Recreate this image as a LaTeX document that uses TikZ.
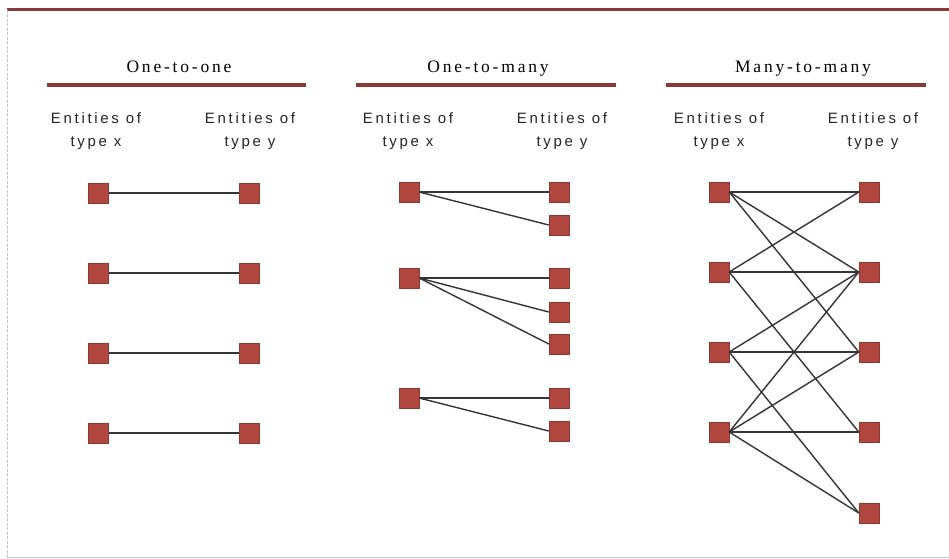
\documentclass[tikz,border=0pt]{standalone}
\usepackage{fontspec}
\setmainfont{Liberation Serif}
\newfontfamily\entfont[LetterSpace=18]{Liberation Sans}
\newfontfamily\ttlfont[LetterSpace=16]{Liberation Serif}
\definecolor{barred}{HTML}{8A3A36}
\definecolor{sqfill}{HTML}{B0463D}
\definecolor{sqedge}{HTML}{8E3832}
\definecolor{linkc}{HTML}{353535}
\definecolor{frame}{HTML}{C8C4C4}
\tikzset{
  sq/.style={rectangle, minimum size=20pt, inner sep=0pt, fill=sqfill, draw=sqedge, line width=0.4pt},
  link/.style={draw=linkc, line width=1.4pt},
  ttl/.style={inner sep=0pt, anchor=base, font=\ttlfont\fontsize{17.5}{20}\selectfont},
  ent/.style={inner sep=0pt, anchor=base, font=\entfont\fontsize{15}{23}\selectfont, text=black!85},
  bar/.style={draw=barred, line width=3.2pt},
}
\begin{document}
\begin{tikzpicture}[x=1pt,y=-1pt]
\useasboundingbox (0,0) rectangle (949,558);
\fill[white] (0,0) rectangle (949,558);
% frame
\coordinate (tl) at (7,9.5);
\coordinate (tr) at (949,9.5);
\coordinate (bl) at (7,557);
\coordinate (br) at (949,557);
\draw[bar] (tl) -- (tr);
\draw[frame, line width=0.8pt, dash pattern=on 3pt off 1.5pt] (tl) -- (bl);
\draw[frame, line width=0.8pt] (bl) -- (br);

% titles
\node[ttl] (t1) at (179,72) {One-to-one};
\node[ttl] (t2) at (488,72) {One-to-many};
\node[ttl] (t3) at (803,72) {Many-to-many};
\coordinate (u1a) at (47,85); \coordinate (u1b) at (306,85);
\coordinate (u2a) at (356,85); \coordinate (u2b) at (616,85);
\coordinate (u3a) at (666,85); \coordinate (u3b) at (926,85);
\draw[bar] (u1a) -- (u1b);
\draw[bar] (u2a) -- (u2b);
\draw[bar] (u3a) -- (u3b);

% headers
\foreach \n/\xx/\t in {a/96/x, b/250/y, c/408/x, d/562/y, e/719/x, f/873/y}{
  \node[ent] (h\n1) at (\xx,123) {Entities of};
  \node[ent] (h\n2) at (\xx,146) {type \t};
}

% one-to-one
\foreach \i/\yy in {1/193,2/273,3/353,4/433}{
  \node[sq] (oa\i) at (98.5,\yy) {};
  \node[sq] (ob\i) at (249.5,\yy) {};
  \draw[link] (oa\i.east) -- (ob\i.west);
}

% one-to-many
\node[sq] (ma1) at (409,192) {};
\node[sq] (ma2) at (409,278) {};
\node[sq] (ma3) at (409,398) {};
\node[sq] (mb1) at (559,192) {};
\node[sq] (mb2) at (559,225) {};
\node[sq] (mb3) at (559,278) {};
\node[sq] (mb4) at (559,312) {};
\node[sq] (mb5) at (559,344) {};
\node[sq] (mb6) at (559,398) {};
\node[sq] (mb7) at (559,431) {};
\foreach \a/\b in {1/1,1/2,2/3,2/4,2/5,3/6,3/7}{
  \draw[link] (ma\a.east) -- (mb\b.west);
}

% many-to-many
\foreach \i/\yy in {1/192,2/272,3/352,4/432}{
  \node[sq] (na\i) at (719,\yy) {};
}
\foreach \i/\yy in {1/192,2/272,3/352,4/432,5/513}{
  \node[sq] (nb\i) at (869,\yy) {};
}
\foreach \a/\b in {1/1,1/2,1/3,2/1,2/2,2/4,3/2,3/3,3/5,4/2,4/3,4/4,4/5}{
  \draw[link] (na\a.east) -- (nb\b.west);
}
\end{tikzpicture}
\end{document}
